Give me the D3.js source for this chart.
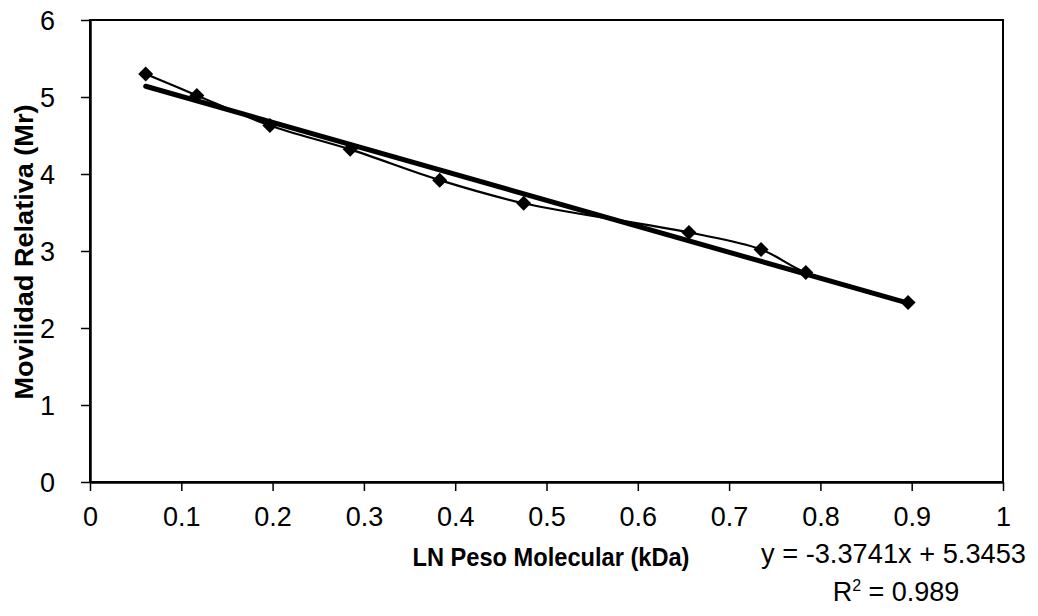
<!DOCTYPE html>
<html><head><meta charset="utf-8">
<script src="https://cdn.jsdelivr.net/npm/d3@7"></script>
<style>body{margin:0;background:#fff;} svg{display:block;font-family:"Liberation Sans",Arial,sans-serif;}</style>
</head><body>
<svg id="c" width="1038" height="616"></svg>
<script>
const xValues = [0.061, 0.117, 0.197, 0.285, 0.383, 0.475, 0.656, 0.735, 0.784, 0.896];
const yValues = [5.30, 5.02, 4.63, 4.32, 3.92, 3.62, 3.24, 3.02, 2.72, 2.33];
const xTicks = [0, 0.1, 0.2, 0.3, 0.4, 0.5, 0.6, 0.7, 0.8, 0.9, 1];
const yTicks = [0, 1, 2, 3, 4, 5, 6];
const slope = -3.3741, intercept = 5.3453, r2 = 0.989;

const svg = d3.select("#c");
const L = 90, R = 1003, T = 20, B = 482;
const x = d3.scaleLinear().domain([0, 1]).range([L, R]);
const y = d3.scaleLinear().domain([0, 6]).range([B, T]);
const FF = "'Liberation Sans', Arial, sans-serif";

// plot frame
svg.append("rect").attr("x", L).attr("y", T).attr("width", R - L).attr("height", B - T)
  .attr("fill", "none").attr("stroke", "#000").attr("stroke-width", 2);

// axes
const xa = svg.append("g").attr("transform", `translate(0,${B})`)
  .call(d3.axisBottom(x).tickValues(xTicks).tickFormat(d => d === 0 || d === 1 ? String(d) : d3.format(".1f")(d)).tickSize(9).tickSizeOuter(0));
const ya = svg.append("g").attr("transform", `translate(${L},0)`)
  .call(d3.axisLeft(y).tickValues(yTicks).tickFormat(d3.format("d")).tickSize(9).tickSizeOuter(0));
[xa, ya].forEach(g => {
  g.attr("font-size", null).attr("font-family", null);
  g.select(".domain").attr("stroke", "#000").attr("stroke-width", 2.5);
  g.selectAll(".tick line").attr("stroke", "#000").attr("stroke-width", 1.5);
  g.selectAll(".tick text").attr("fill", "#000").attr("font-size", 27).attr("font-family", FF);
});
xa.selectAll(".tick text").attr("dy", "0").attr("y", 44);
ya.selectAll(".tick text").attr("x", -35).attr("dy", "0.36em");

// series line (smoothed)
const pts = xValues.map((v, i) => [v, yValues[i]]);
svg.append("path").datum(pts)
  .attr("fill", "none").attr("stroke", "#000").attr("stroke-width", 2.2)
  .attr("d", d3.line().x(d => x(d[0])).y(d => y(d[1])).curve(d3.curveCatmullRom.alpha(0.5)));

// trend line
const x0 = d3.min(xValues), x1 = d3.max(xValues);
svg.append("line")
  .attr("x1", x(x0)).attr("y1", y(slope * x0 + intercept))
  .attr("x2", x(x1)).attr("y2", y(slope * x1 + intercept))
  .attr("stroke", "#000").attr("stroke-width", 5).attr("stroke-linecap", "round");

// markers
svg.append("g").selectAll("path").data(pts).join("path")
  .attr("transform", d => `translate(${x(d[0])},${y(d[1])})`)
  .attr("d", "M0,-7.5L7.5,0L0,7.5L-7.5,0Z").attr("fill", "#000");

// axis titles
svg.append("text").attr("x", 551).attr("y", 566).attr("text-anchor", "middle")
  .attr("font-size", 25).attr("font-weight", "bold").attr("font-family", FF)
  .attr("textLength", 277).attr("lengthAdjust", "spacingAndGlyphs")
  .text("LN Peso Molecular (kDa)");
svg.append("text").attr("transform", "translate(33,252) rotate(-90)").attr("text-anchor", "middle")
  .attr("font-size", 25).attr("font-weight", "bold").attr("font-family", FF)
  .attr("textLength", 295).attr("lengthAdjust", "spacingAndGlyphs")
  .text("Movilidad Relativa (Mr)");

// equation
const fmt = v => v.toFixed(4);
svg.append("text").attr("x", 761).attr("y", 563)
  .attr("font-size", 27).attr("font-family", FF)
  .attr("textLength", 265).attr("lengthAdjust", "spacingAndGlyphs")
  .text(`y = ${fmt(slope)}x + ${fmt(intercept)}`);
const r = svg.append("text").attr("x", 896).attr("y", 601).attr("text-anchor", "middle")
  .attr("font-size", 27).attr("font-family", FF);
r.append("tspan").text("R");
r.append("tspan").attr("dy", -10).attr("font-size", 16).text("2");
r.append("tspan").attr("dy", 10).text(` = ${r2}`);
</script>
</body></html>
